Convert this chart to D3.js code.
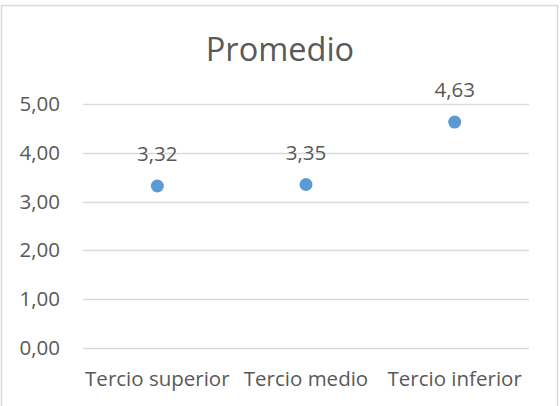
<!DOCTYPE html>
<html>
<head>
<meta charset="utf-8">
<script src="https://cdn.jsdelivr.net/npm/d3@7"></script>
<style>
  html, body { margin: 0; padding: 0; background: #fff; }
  svg { display: block; }
  text { font-family: "Open Sans", sans-serif; fill: #595959; }
</style>
</head>
<body>
<script>
// Chart data
const categories = ["Tercio superior", "Tercio medio", "Tercio inferior"];
const values = [3.32, 3.35, 4.63];
const yTicks = [0, 1, 2, 3, 4, 5];
const title = "Promedio";

const width = 560, height = 406;
const margin = { top: 104, right: 31, bottom: 58, left: 83 };
const fontFamily = "'Open Sans', sans-serif";
const labelSize = 20.5;

const svg = d3.select("body").append("svg")
  .attr("width", width)
  .attr("height", height);

// Outer chart frame
svg.append("rect")
  .attr("x", 1.5).attr("y", 5.5)
  .attr("width", 556).attr("height", 420)
  .attr("fill", "#fff")
  .attr("stroke", "#d9d9d9").attr("stroke-width", 1.5);

const x = d3.scaleBand()
  .domain(categories)
  .range([margin.left, width - margin.right]);

const y = d3.scaleLinear()
  .domain([0, 5])
  .range([height - margin.bottom, margin.top]);

const fmt = v => d3.format(".2f")(v).replace(".", ",");

// Horizontal gridlines
svg.append("g")
  .selectAll("line")
  .data(yTicks)
  .join("line")
  .attr("x1", x.range()[0]).attr("x2", x.range()[1])
  .attr("y1", d => Math.round(y(d)) + 0.5)
  .attr("y2", d => Math.round(y(d)) + 0.5)
  .attr("stroke", "#d9d9d9").attr("stroke-width", 1.3);

// Y axis labels
const yAxis = d3.axisLeft(y).tickValues(yTicks).tickFormat(fmt).tickSize(0).tickPadding(0);
const gy = svg.append("g")
  .attr("transform", `translate(${x.range()[0] - 23},0)`)
  .call(yAxis);
gy.select(".domain").remove();
gy.selectAll("text")
  .attr("font-size", labelSize)
  .attr("font-family", fontFamily)
  .attr("fill", "#595959");

// X axis labels (baseline placed directly)
const xAxis = d3.axisBottom(x).tickSize(0).tickPadding(0);
const gx = svg.append("g")
  .attr("transform", `translate(0,${y(0) + 38})`)
  .call(xAxis);
gx.select(".domain").remove();
gx.selectAll("text")
  .attr("dy", 0)
  .attr("font-size", labelSize)
  .attr("font-family", fontFamily)
  .attr("fill", "#595959");

// Points
svg.append("g")
  .selectAll("circle")
  .data(values)
  .join("circle")
  .attr("cx", (d, i) => x(categories[i]) + x.bandwidth() / 2)
  .attr("cy", d => y(d))
  .attr("r", 6.5)
  .attr("fill", "#5b9bd5");

// Value labels
svg.append("g")
  .selectAll("text")
  .data(values)
  .join("text")
  .attr("x", (d, i) => x(categories[i]) + x.bandwidth() / 2)
  .attr("y", d => y(d) - 25)
  .attr("text-anchor", "middle")
  .attr("font-size", labelSize)
  .text(fmt);

// Title
svg.append("text")
  .attr("x", width / 2)
  .attr("y", 61)
  .attr("text-anchor", "middle")
  .attr("font-size", 32.5)
  .text(title);
</script>
</body>
</html>
